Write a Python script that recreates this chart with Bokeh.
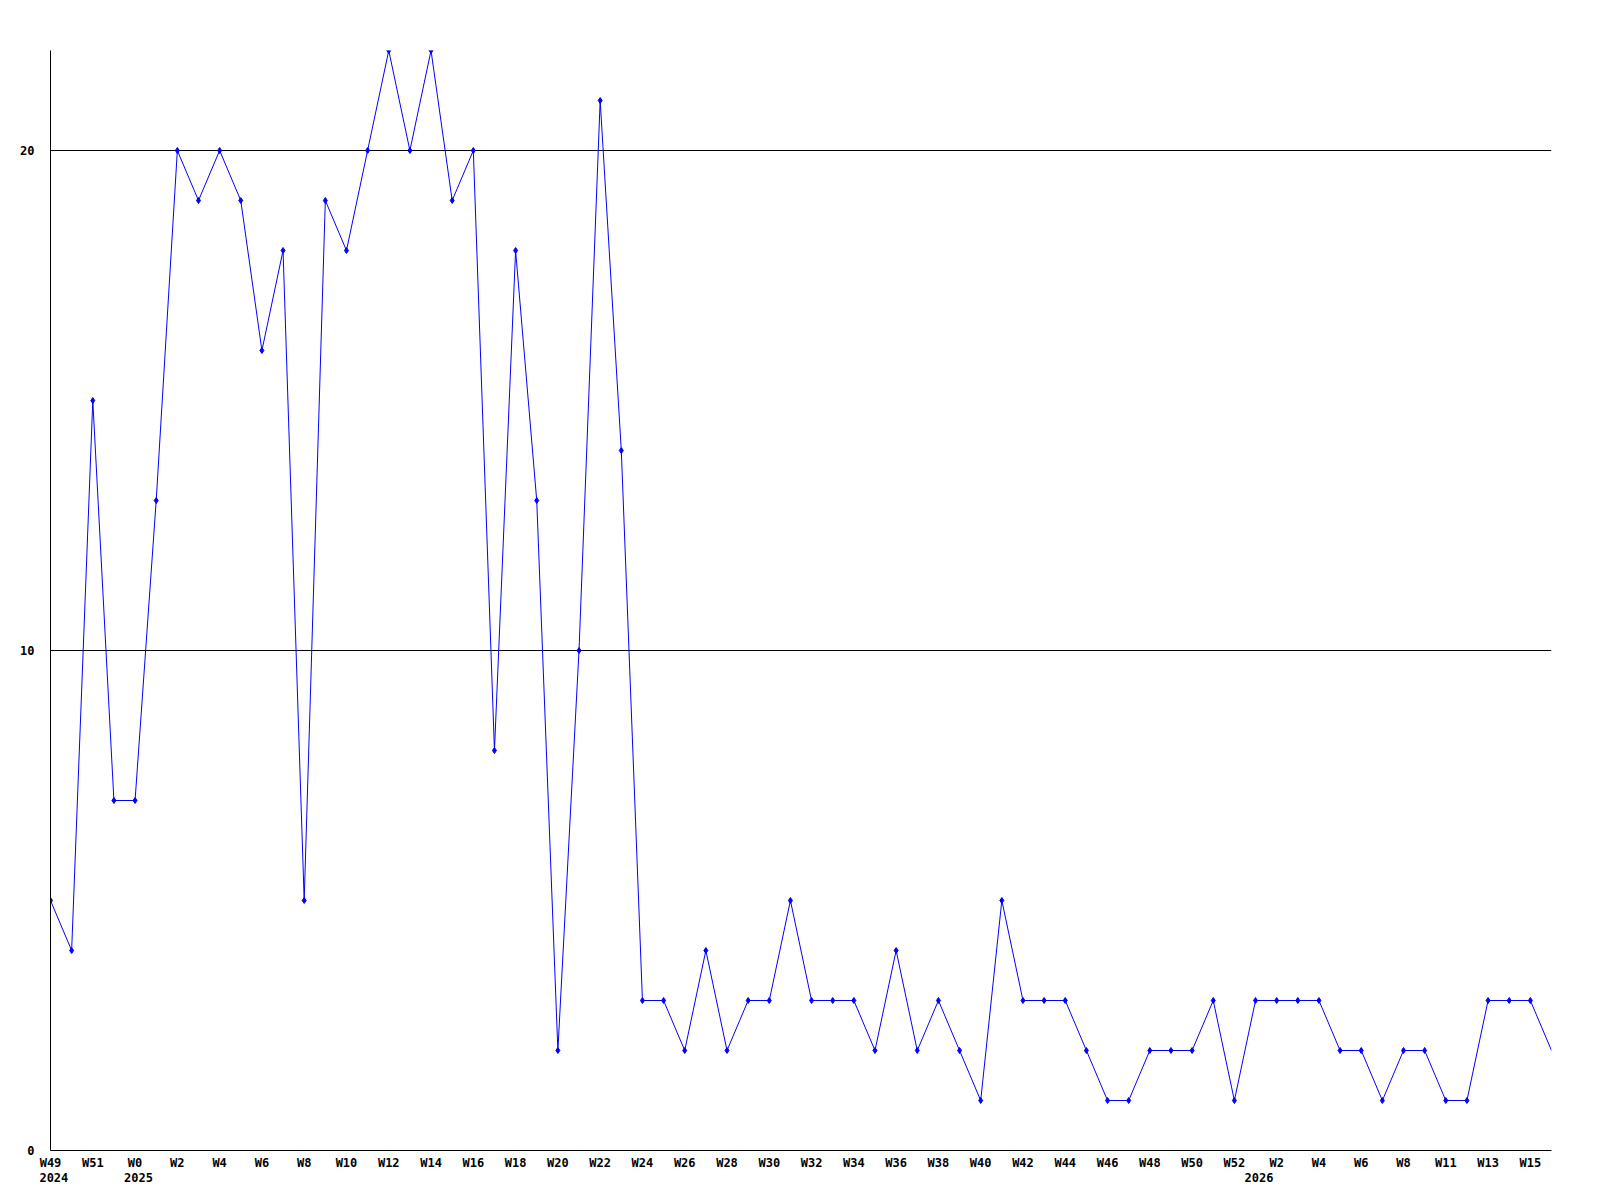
from bokeh.plotting import figure
from bokeh.models import Range1d, FixedTicker, LinearAxis, ColumnDataSource
from bokeh.embed import file_html
from bokeh.resources import INLINE

weeks = (["W49", "W50", "W51", "W52"]
         + ["W%d" % i for i in range(0, 53)]
         + ["W1", "W2", "W3", "W4", "W5", "W6", "W7", "W8", "W10", "W11",
            "W12", "W13", "W14", "W15", "W16"])
year_marks = {0: "2024", 4: "2025", 57: "2026"}
values = [5, 4, 15, 7, 7, 13, 20, 19, 20, 19, 16, 18, 5, 19, 18, 20, 22, 20, 22, 19,
          20, 8, 18, 13, 2, 10, 21, 14, 3, 3, 2, 4, 2, 3, 3, 5, 3, 3, 3, 2,
          4, 2, 3, 2, 1, 5, 3, 3, 3, 2, 1, 1, 2, 2, 2, 3, 1, 3, 3, 3,
          3, 2, 2, 1, 2, 2, 1, 1, 3, 3, 3, 2]
y_ticks = [0, 10, 20]

xs = list(range(len(values)))
src = ColumnDataSource(dict(x=xs, y=values))
msrc = ColumnDataSource(dict(x=xs[:-1], y=values[:-1]))

FONT = "DejaVu Sans Mono"
YR_SHIFT = 0.16  # year labels start flush with the week label above them

p = figure(frame_width=1501, frame_height=1100,
           min_border_left=50, min_border_top=50, min_border_right=40, min_border_bottom=10,
           x_range=Range1d(0, len(values) - 1), y_range=Range1d(0, 22),
           output_backend="svg", toolbar_location=None, x_axis_location=None)
p.outline_line_color = None
p.background_fill_color = "white"
p.border_fill_color = "white"

p.xgrid.visible = False
p.ygrid.ticker = FixedTicker(ticks=y_ticks)
p.ygrid.grid_line_color = "black"
p.ygrid.grid_line_width = 1

ya = p.yaxis[0]
ya.ticker = FixedTicker(ticks=y_ticks)
ya.axis_line_color = "black"
ya.major_tick_line_color = None
ya.minor_tick_line_color = None
ya.major_tick_out = 0
ya.major_tick_in = 0
ya.major_label_standoff = 16
ya.major_label_text_align = "left"
ya.major_label_text_font = FONT
ya.major_label_text_font_style = "bold"
ya.major_label_text_font_size = "12px"
ya.major_label_text_color = "black"

wk_axis = LinearAxis(ticker=FixedTicker(ticks=[i for i in xs if i % 2 == 0]))
wk_axis.major_label_overrides = {i: weeks[i] for i in xs if i % 2 == 0}
wk_axis.axis_line_color = "black"
wk_axis.major_tick_line_color = None
wk_axis.minor_tick_line_color = None
wk_axis.major_tick_out = 0
wk_axis.major_tick_in = 0
wk_axis.major_label_standoff = 5
wk_axis.major_label_text_font = FONT
wk_axis.major_label_text_font_style = "bold"
wk_axis.major_label_text_font_size = "12px"
wk_axis.major_label_text_color = "black"
p.add_layout(wk_axis, "below")

yr_ticks = [k + YR_SHIFT for k in year_marks]
yr_axis = LinearAxis(ticker=FixedTicker(ticks=yr_ticks))
yr_axis.major_label_overrides = {k + YR_SHIFT: v for k, v in year_marks.items()}
yr_axis.axis_line_color = None
yr_axis.major_tick_line_color = None
yr_axis.minor_tick_line_color = None
yr_axis.major_tick_out = 0
yr_axis.major_tick_in = 0
yr_axis.major_label_standoff = 0
yr_axis.major_label_text_font = FONT
yr_axis.major_label_text_font_style = "bold"
yr_axis.major_label_text_font_size = "12px"
yr_axis.major_label_text_color = "black"
p.add_layout(yr_axis, "below")

p.line("x", "y", source=src, line_color="#0000ff", line_width=1)
p.scatter("x", "y", source=msrc, marker="diamond", size=6,
          fill_color="#0000ff", line_color="#0000ff")

open("out.html", "w").write(file_html(p, INLINE))
